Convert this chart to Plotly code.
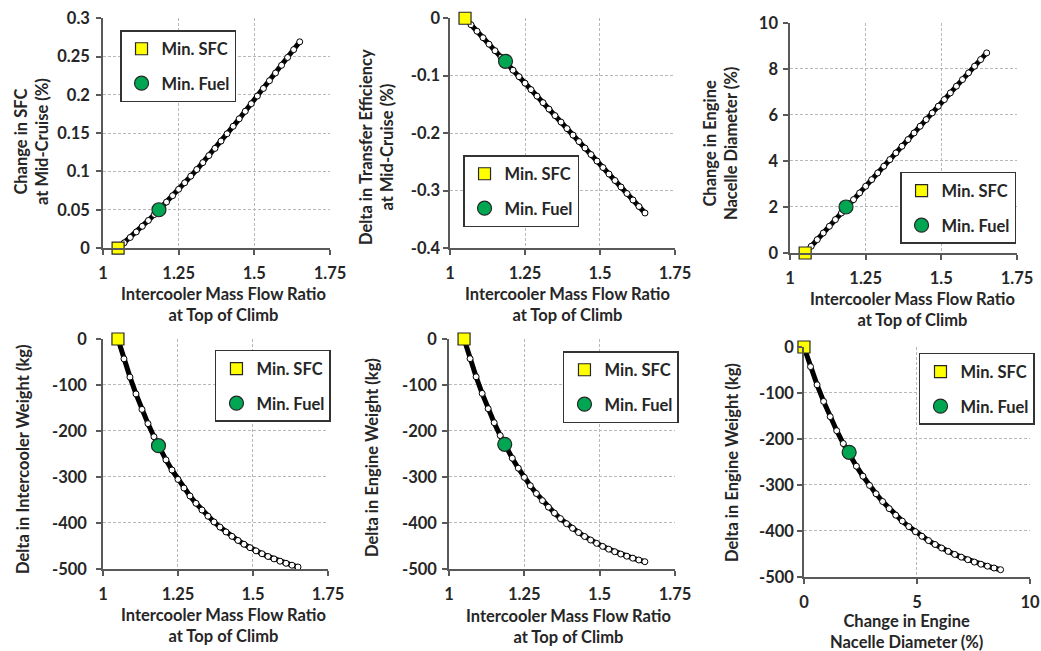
import plotly.graph_objects as go

# intercooler mass flow ratio at top of climb (design sweep)
mass_flow_ratio = [1.05, 1.07, 1.09, 1.11, 1.13, 1.15, 1.17, 1.19, 1.21, 1.23,
                   1.25, 1.27, 1.29, 1.31, 1.33, 1.35, 1.37, 1.39, 1.41, 1.43,
                   1.45, 1.47, 1.49, 1.51, 1.53, 1.55, 1.57, 1.59, 1.61, 1.63, 1.65]

# change in SFC at mid-cruise (%)
sfc_change = [0.0, 0.0068, 0.0138, 0.0210, 0.0284, 0.0360, 0.0438, 0.0518, 0.0600, 0.0683,
              0.0767, 0.0852, 0.0938, 0.1025, 0.1115, 0.1207, 0.1301, 0.1396, 0.1492, 0.1589,
              0.1687, 0.1785, 0.1884, 0.1984, 0.2084, 0.2184, 0.2285, 0.2386, 0.2488, 0.2590, 0.2692]

# delta in transfer efficiency at mid-cruise (%)
transfer_eff = [0.0, -0.0113, -0.0226, -0.0339, -0.0452, -0.0565, -0.0678, -0.0791, -0.0904, -0.1017,
                -0.1130, -0.1243, -0.1356, -0.1469, -0.1582, -0.1695, -0.1808, -0.1921, -0.2034, -0.2147,
                -0.2260, -0.2373, -0.2486, -0.2599, -0.2712, -0.2825, -0.2938, -0.3051, -0.3164, -0.3277, -0.3390]

# change in engine nacelle diameter (%)
nacelle_dia = [0.0, 0.29, 0.58, 0.87, 1.16, 1.45, 1.74, 2.03, 2.32, 2.61,
               2.90, 3.19, 3.48, 3.77, 4.06, 4.35, 4.64, 4.93, 5.22, 5.51,
               5.80, 6.09, 6.38, 6.67, 6.96, 7.25, 7.54, 7.83, 8.12, 8.41, 8.70]

# delta in intercooler weight (kg)
ic_weight = [0, -43.2, -82.9, -119.4, -153.1, -184.0, -212.5, -238.7, -262.8, -284.9,
             -305.3, -324.1, -341.3, -357.2, -371.8, -385.3, -397.7, -409.0, -419.5, -429.1,
             -438.0, -446.2, -453.7, -460.6, -466.9, -472.8, -478.1, -483.1, -487.6, -491.8, -495.7]

# delta in engine weight (kg)
engine_weight = [0, -42.8, -82.2, -118.3, -151.5, -182.0, -209.9, -235.6, -259.2, -280.9,
                 -300.9, -319.1, -335.9, -351.4, -365.6, -378.5, -390.5, -401.5, -411.5, -420.8,
                 -429.3, -437.1, -444.3, -450.9, -456.9, -462.5, -467.6, -472.2, -476.5, -480.5, -484.2]

# optimum points
min_sfc_mfr = 1.05
min_fuel_mfr = 1.185
min_sfc_vals = [0, 0, 0, 0, 0]          # sfc, eff, dia, ic weight, engine weight
min_fuel_vals = [0.05, -0.075, 2.0, -232, -229]

# tick labels
mfr_ticks = [1, 1.25, 1.5, 1.75]
mfr_labels = ["1", "1.25", "1.5", "1.75"]
sfc_ticks = [0, 0.05, 0.1, 0.15, 0.2, 0.25, 0.3]
sfc_labels = ["0", "0.05", "0.1", "0.15", "0.2", "0.25", "0.3"]
eff_ticks = [-0.4, -0.3, -0.2, -0.1, 0]
eff_labels = ["-0.4", "-0.3", "-0.2", "-0.1", "0"]
dia_ticks = [0, 2, 4, 6, 8, 10]
dia_labels = ["0", "2", "4", "6", "8", "10"]
dia_x_ticks = [0, 5, 10]
dia_x_labels = ["0", "5", "10"]
wt_ticks = [-500, -400, -300, -200, -100, 0]
wt_labels = ["-500", "-400", "-300", "-200", "-100", "0"]

mfr_title = "Intercooler Mass Flow Ratio<br>at Top of Climb"
dia_title = "Change in Engine<br>Nacelle Diameter (%)"

panels = [
    dict(x=mass_flow_ratio, y=sfc_change, p1=(min_sfc_mfr, min_sfc_vals[0]), p2=(min_fuel_mfr, min_fuel_vals[0]),
         xt=(mfr_ticks, mfr_labels), yt=(sfc_ticks, sfc_labels), xtitle=mfr_title,
         ytitle="Change in SFC<br>at Mid-Cruise (%)"),
    dict(x=mass_flow_ratio, y=transfer_eff, p1=(min_sfc_mfr, min_sfc_vals[1]), p2=(min_fuel_mfr, min_fuel_vals[1]),
         xt=(mfr_ticks, mfr_labels), yt=(eff_ticks, eff_labels), xtitle=mfr_title,
         ytitle="Delta in Transfer Efficiency<br>at Mid-Cruise (%)"),
    dict(x=mass_flow_ratio, y=nacelle_dia, p1=(min_sfc_mfr, min_sfc_vals[2]), p2=(min_fuel_mfr, min_fuel_vals[2]),
         xt=(mfr_ticks, mfr_labels), yt=(dia_ticks, dia_labels), xtitle=mfr_title,
         ytitle="Change in Engine<br>Nacelle Diameter (%)"),
    dict(x=mass_flow_ratio, y=ic_weight, p1=(min_sfc_mfr, min_sfc_vals[3]), p2=(min_fuel_mfr, min_fuel_vals[3]),
         xt=(mfr_ticks, mfr_labels), yt=(wt_ticks, wt_labels), xtitle=mfr_title,
         ytitle="Delta in Intercooler Weight (kg)"),
    dict(x=mass_flow_ratio, y=engine_weight, p1=(min_sfc_mfr, min_sfc_vals[4]), p2=(min_fuel_mfr, min_fuel_vals[4]),
         xt=(mfr_ticks, mfr_labels), yt=(wt_ticks, wt_labels), xtitle=mfr_title,
         ytitle="Delta in Engine Weight (kg)"),
    dict(x=nacelle_dia, y=engine_weight, p1=(min_sfc_vals[2], min_sfc_vals[4]), p2=(min_fuel_vals[2], min_fuel_vals[4]),
         xt=(dia_x_ticks, dia_x_labels), yt=(wt_ticks, wt_labels), xtitle=dia_title,
         ytitle="Delta in Engine Weight (kg)"),
]

W, H = 1041, 651
# plot area domains (paper fractions), legend corners, title centres (px)
xdom = [(0.0989, 0.3170), (0.4323, 0.6484), (0.7589, 0.9769),
        (0.0989, 0.3151), (0.4313, 0.6484), (0.7723, 0.9894)]
ydom = [(0.619, 0.972), (0.619, 0.972), (0.6114, 0.9647),
        (0.126, 0.4793), (0.126, 0.4793), (0.1137, 0.4670)]
leg_pos = [(0.1153, 0.9539), (0.4448, 0.7619), (0.8646, 0.7358),
           (0.2065, 0.4624), (0.5408, 0.4608), (0.8828, 0.4578)]
xtitle_px = [(223, 304), (567, 305), (912, 309), (223, 625), (568, 626), (906, 631)]
ytitle_px = [(31, 142), (376, 147), (720, 144), (23, 459), (372, 458), (732, 463)]
y_label_gap = [3, 0, 2, 6, 2, 0]

FONT = dict(family="Lato", size=16.5, color="#262626", weight="bold")
AXCOL = "#595959"
GRIDCOL = "#b8b8b8"

fig = go.Figure()
layout = dict(width=W, height=H, margin=dict(l=0, r=0, t=0, b=0),
              paper_bgcolor="white", plot_bgcolor="white", font=FONT)
annotations = []

for i, p in enumerate(panels):
    n = i + 1
    sx = "" if n == 1 else str(n)
    leg = "legend" if n == 1 else f"legend{n}"
    fig.add_trace(go.Scatter(
        x=p["x"], y=p["y"], mode="lines+markers", xaxis="x" + sx, yaxis="y" + sx,
        line=dict(color="black", width=5),
        marker=dict(symbol="circle", size=6, color="white", line=dict(color="black", width=1)),
        showlegend=False, cliponaxis=False, hoverinfo="skip"))
    fig.add_trace(go.Scatter(
        x=[p["p1"][0]], y=[p["p1"][1]], mode="markers", name="Min. SFC",
        xaxis="x" + sx, yaxis="y" + sx, legend=leg, legendgroup=f"sfc{n}",
        marker=dict(symbol="square", size=12, color="#ffff00", line=dict(color="#262626", width=1.2)),
        cliponaxis=False))
    fig.add_trace(go.Scatter(
        x=[p["p2"][0]], y=[p["p2"][1]], mode="markers", name="Min. Fuel",
        xaxis="x" + sx, yaxis="y" + sx, legend=leg, legendgroup=f"fuel{n}",
        marker=dict(symbol="circle", size=14, color="#00a651", line=dict(color="#262626", width=1.2)),
        cliponaxis=False))

    xt, yt = p["xt"], p["yt"]
    common = dict(showgrid=True, gridcolor=GRIDCOL, griddash="3px,2px", gridwidth=1,
                  showline=True, linecolor=AXCOL, linewidth=1.5,
                  ticks="outside", ticklen=5, tickcolor=AXCOL, tickwidth=1.5,
                  zeroline=False, tickfont=FONT, automargin=False)
    layout["xaxis" + sx] = dict(common, domain=list(xdom[i]), anchor="y" + sx,
                                range=[xt[0][0], xt[0][-1]], tickmode="array",
                                tickvals=xt[0], ticktext=xt[1], ticklabelstandoff=4)
    layout["yaxis" + sx] = dict(common, domain=list(ydom[i]), anchor="x" + sx,
                                range=[min(yt[0]), max(yt[0])],
                                tickmode="array", tickvals=yt[0], ticktext=yt[1],
                                ticklabelstandoff=y_label_gap[i])
    layout[leg] = dict(x=leg_pos[i][0], y=leg_pos[i][1], xanchor="left", yanchor="top",
                       bgcolor="white", bordercolor="#333333", borderwidth=1.5,
                       font=FONT, tracegroupgap=10, itemwidth=30)

    # axis titles placed as paper annotations
    annotations.append(dict(text=p["xtitle"], xref="paper", yref="paper",
                            x=xtitle_px[i][0] / W, y=1 - xtitle_px[i][1] / H,
                            xanchor="center", yanchor="middle", showarrow=False, font=FONT))
    annotations.append(dict(text=p["ytitle"], xref="paper", yref="paper",
                            x=ytitle_px[i][0] / W, y=1 - ytitle_px[i][1] / H, textangle=-90,
                            xanchor="center", yanchor="middle", showarrow=False, font=FONT))

layout["annotations"] = annotations
fig.update_layout(**layout)
fig.write_html("out.html", config={"displayModeBar": False},
               post_script="document.body.style.margin='0';document.body.style.overflow='hidden';")
